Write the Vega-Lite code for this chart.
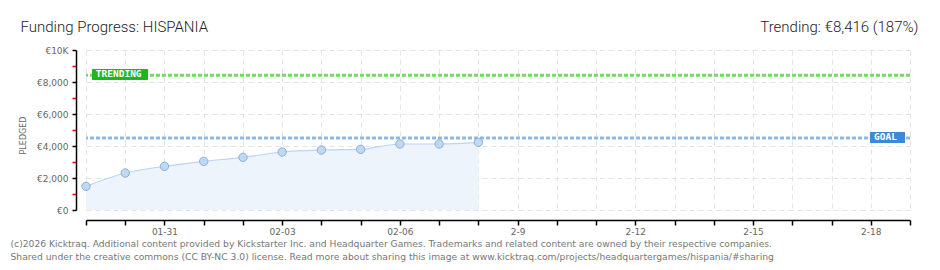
{
  "$schema": "https://vega.github.io/schema/vega-lite/v6.json",
  "width": 824,
  "height": 160,
  "autosize": {"type": "none"},
  "padding": {"left": 86, "top": 50, "right": 30, "bottom": 60},
  "background": "white",
  "config": {"view": {"stroke": null}},
  "datasets": {
    "pledges": [
      {"date": "2026-01-29", "pledged": 1480},
      {"date": "2026-01-30", "pledged": 2310},
      {"date": "2026-01-31", "pledged": 2730},
      {"date": "2026-02-01", "pledged": 3040},
      {"date": "2026-02-02", "pledged": 3290},
      {"date": "2026-02-03", "pledged": 3625},
      {"date": "2026-02-04", "pledged": 3750},
      {"date": "2026-02-05", "pledged": 3790},
      {"date": "2026-02-06", "pledged": 4125},
      {"date": "2026-02-07", "pledged": 4125},
      {"date": "2026-02-08", "pledged": 4230}
    ],
    "targets": [
      {"label": "TRENDING", "value": 8416},
      {"label": "GOAL", "value": 4500}
    ]
  },
  "resolve": {"axis": {"x": "independent", "y": "independent"}},
  "layer": [
    {
      "data": {"name": "pledges"},
      "mark": {"type": "area", "color": "#edf4fc", "opacity": 1, "interpolate": "monotone"},
      "encoding": {
        "x": {
          "field": "date",
          "type": "temporal",
          "scale": {"type": "utc", "domain": ["2026-01-29", "2026-02-19"], "nice": false},
          "axis": {
            "orient": "bottom",
            "offset": 10,
            "tickCount": {"interval": "day", "step": 1},
            "labelExpr": "(round((datum.value - 1769817600000) / 86400000) % 3 == 0) ? (datum.value < 1770500000000 ? utcFormat(datum.value, '%m-%d') : utcFormat(datum.value, '%-m-%-d')) : ''",
            "labelOverlap": false,
            "labelFlush": false,
            "grid": true,
            "gridColor": "#e4e4e4",
            "gridDash": [5, 4],
            "gridWidth": 1,
            "domainColor": "#000000",
            "domainWidth": 1.5,
            "tickColor": "#000000",
            "tickWidth": 1.5,
            "tickSize": 5,
            "labelColor": "#666666",
            "labelFont": "DejaVu Sans",
            "labelFontSize": 9,
            "labelPadding": 2,
            "title": [
              "(c)2026 Kicktraq. Additional content provided by Kickstarter Inc. and Headquarter Games. Trademarks and related content are owned by their respective companies.",
              "Shared under the creative commons (CC BY-NC 3.0) license. Read more about sharing this image at www.kicktraq.com/projects/headquartergames/hispania/#sharing"
            ],
            "titleX": -76,
            "titleY": 26,
            "titleAlign": "left",
            "titleAnchor": null,
            "titleBaseline": "alphabetic",
            "titleFont": "DejaVu Sans",
            "titleFontSize": 9.2,
            "titleFontWeight": "normal",
            "titleColor": "#777777",
            "titleLineHeight": 13
          }
        },
        "y": {
          "field": "pledged",
          "type": "quantitative",
          "scale": {"domain": [0, 10000], "nice": false},
          "axis": {
            "offset": 10,
            "values": [0, 1000, 2000, 3000, 4000, 5000, 6000, 7000, 8000, 9000, 10000],
            "labelExpr": "datum.value % 2000 != 0 ? '' : (datum.value == 10000 ? '€10K' : '€' + format(datum.value, ','))",
            "labelOverlap": false,
            "labelFlush": false,
            "grid": true,
            "gridColor": "#e4e4e4",
            "gridDash": [5, 4],
            "gridOpacity": {"condition": {"test": "datum.value % 2000 != 0", "value": 0}, "value": 1},
            "domainColor": "#000000",
            "domainWidth": 1.5,
            "tickColor": {"condition": {"test": "datum.value % 2000 != 0", "value": "#ee0000"}, "value": "#000000"},
            "tickWidth": 1.5,
            "tickSize": 4,
            "labelColor": "#666666",
            "labelFont": "DejaVu Sans",
            "labelFontSize": 9,
            "labelPadding": 4,
            "title": "PLEDGED",
            "titleFont": "DejaVu Sans",
            "titleFontSize": 8,
            "titleFontWeight": "normal",
            "titleColor": "#666666",
            "titleX": -49,
            "titleY": 85,
            "titleAlign": "center",
            "titleAnchor": null
          }
        }
      }
    },
    {
      "data": {"name": "pledges"},
      "mark": {"type": "line", "color": "#bcd6f2", "strokeWidth": 1.2, "interpolate": "monotone"},
      "encoding": {
        "x": {"field": "date", "type": "temporal", "axis": null},
        "y": {"field": "pledged", "type": "quantitative", "axis": null}
      }
    },
    {
      "data": {"name": "targets"},
      "mark": {"type": "rule", "strokeWidth": 3, "strokeDash": [4, 2]},
      "encoding": {
        "y": {"field": "value", "type": "quantitative", "axis": null},
        "color": {
          "field": "label",
          "type": "nominal",
          "scale": {"domain": ["TRENDING", "GOAL"], "range": ["#7ad86b", "#8fb8e8"]},
          "legend": null
        }
      }
    },
    {
      "data": {"name": "pledges"},
      "mark": {"type": "point", "shape": "circle", "filled": true, "size": 70, "fill": "#bfd8f5", "stroke": "#8eaed4", "strokeWidth": 1, "opacity": 1},
      "encoding": {
        "x": {
          "field": "date",
          "type": "temporal",
          "axis": {
            "orient": "top",
            "labels": false,
            "ticks": false,
            "domain": false,
            "grid": false,
            "title": "Funding Progress: HISPANIA",
            "titleX": -66,
            "titleY": -19,
            "titleAlign": "left",
            "titleAnchor": null,
            "titleBaseline": "alphabetic",
            "titleFont": "Roboto",
            "titleFontWeight": 300,
            "titleFontSize": 15,
            "titleColor": "#222222"
          }
        },
        "y": {
          "field": "pledged",
          "type": "quantitative",
          "axis": {
            "orient": "right",
            "labels": false,
            "ticks": false,
            "domain": false,
            "grid": false,
            "title": "Trending: €8,416 (187%)",
            "titleAngle": 0,
            "titleX": 8,
            "titleY": -19,
            "titleAlign": "right",
            "titleAnchor": null,
            "titleBaseline": "alphabetic",
            "titleFont": "Roboto",
            "titleFontWeight": 300,
            "titleFontSize": 15,
            "titleColor": "#222222"
          }
        }
      }
    },
    {
      "data": {"values": [{}]},
      "mark": {"type": "rect", "color": "#1fb51f", "cornerRadius": 1},
      "encoding": {
        "x": {"datum": 1769658000000, "type": "temporal", "axis": null},
        "x2": {"datum": 1769781600000},
        "y": {"datum": 8812, "type": "quantitative", "axis": null},
        "y2": {"datum": 8125}
      }
    },
    {
      "data": {"values": [{}]},
      "mark": {"type": "rect", "color": "#3f87d8", "cornerRadius": 1},
      "encoding": {
        "x": {"datum": 1771371000000, "type": "temporal", "axis": null},
        "x2": {"datum": 1771448400000},
        "y": {"datum": 4875, "type": "quantitative", "axis": null},
        "y2": {"datum": 4188}
      }
    },
    {
      "data": {"values": [{}]},
      "mark": {"type": "text", "color": "white", "font": "DejaVu Sans Mono", "fontWeight": "bold", "fontSize": 9.5, "align": "left", "baseline": "middle", "text": "TRENDING"},
      "encoding": {
        "x": {"datum": 1769666400000, "type": "temporal", "axis": null},
        "y": {"datum": 8480, "type": "quantitative", "axis": null}
      }
    },
    {
      "data": {"values": [{}]},
      "mark": {"type": "text", "color": "white", "font": "DejaVu Sans Mono", "fontWeight": "bold", "fontSize": 9.5, "align": "left", "baseline": "middle", "text": "GOAL"},
      "encoding": {
        "x": {"datum": 1771380000000, "type": "temporal", "axis": null},
        "y": {"datum": 4540, "type": "quantitative", "axis": null}
      }
    }
  ]
}
